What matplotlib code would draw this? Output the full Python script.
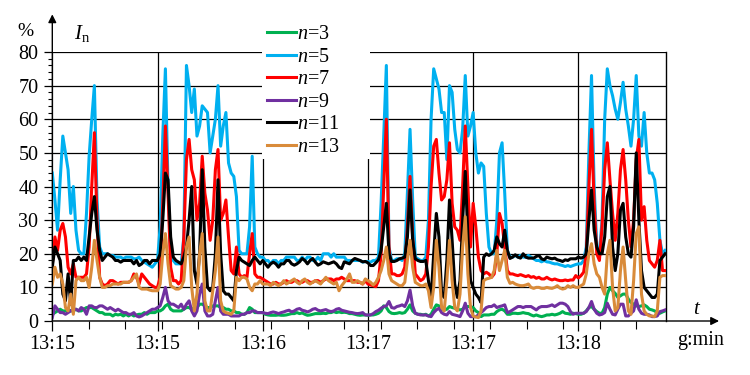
import numpy as np
import matplotlib
matplotlib.use("Agg")
import matplotlib.pyplot as plt
from matplotlib.patches import Rectangle

plt.rcParams['font.family'] = ['Liberation Serif', 'DejaVu Serif']
plt.rcParams['mathtext.fontset'] = 'custom'
plt.rcParams['mathtext.rm'] = 'Liberation Serif'
plt.rcParams['mathtext.it'] = 'Liberation Serif:italic'

# ---- data (values in %, one sample per second from 13:15:00) ----
tick_pos = [0, 40, 80, 120, 160, 200]
tick_labels = ['13:15', '13:15', '13:16', '13:17', '13:17', '13:18']
series_names = ['n=3', 'n=5', 'n=7', 'n=9', 'n=11', 'n=13']
series_colors = ['#00B050', '#00B0F0', '#FF0000', '#7030A0', '#000000', '#D98B3A']

n3 = [2, 2.5, 3, 3.5, 3, 3, 3.5, 3, 3, 3.5,
      3, 3, 3.5, 4, 4, 4, 3.5, 3, 2.5, 2.5,
      2, 2, 2, 1.5, 2, 1.8, 2, 1.5, 2, 1.5,
      2, 1.5, 1.8, 2, 2, 2.5, 2, 2.5, 2.5, 2.5,
      3, 3, 3.5, 4.5, 5, 3.5, 3, 3, 3, 3,
      3.5, 4, 4, 3.5, 4, 4, 5, 5, 4.5, 4,
      4, 4.5, 4.5, 4.5, 4, 4, 3.5, 3.5, 3, 3,
      2.5, 2.5, 2, 2, 2.5, 4, 3.5, 2.5, 2.5, 2.5,
      2.5, 2, 1.8, 1.7, 1.7, 1.7, 1.8, 1.7, 1.7, 1.8,
      2, 2.2, 2.2, 2.5, 2.2, 2.4, 2, 1.7, 1.8, 2,
      2.2, 2.2, 2.2, 2.3, 2.2, 2.5, 2.5, 2.8, 2.5, 2.7,
      2.5, 2.6, 2.5, 2.2, 2.2, 2, 1.8, 1.7, 1.8, 1.8,
      1.7, 1.8, 1.8, 2, 2.3, 3, 4.5, 4, 2.8, 2.3,
      2.2, 2.3, 2.5, 2.3, 2.5, 3.5, 4.8, 3, 2.3, 2,
      2, 1.8, 2, 1.5, 2, 3.5, 4.8, 4.5, 3.5, 3.3,
      3.5, 4.3, 4, 3.8, 3.5, 3.3, 3.5, 4.3, 4.3, 4.3,
      4, 3, 2.5, 1.3, 1.8, 1.8, 1.8, 2, 2, 2.8,
      3.3, 3.5, 3, 2, 2, 2.3, 2.3, 2.2, 2.3, 2.5,
      2.3, 2.2, 1.8, 1.5, 1.8, 1.5, 1.3, 1.5, 1.8, 1.8,
      2, 1.8, 2, 2.3, 2.8, 2.3, 2.2, 2, 2.3, 2.2,
      2, 2, 2.3, 3, 4, 4.3, 3.5, 2.8, 2.3, 2.3,
      4, 8, 10, 9, 8.2, 7, 7.5, 8, 8, 6.5,
      5.5, 5, 4.5, 4.3, 4.5, 4.8, 4.3, 3.5, 3.3, 3,
      2.5, 2.3, 2.7, 3]

n5 = [44, 36, 27, 42, 55, 50, 45, 32, 40, 27,
      21, 20, 20, 32, 49, 60, 70, 36, 22, 20,
      20, 20, 19.5, 19.5, 19, 19, 19, 18.5, 19, 19,
      19, 18.5, 18.5, 19, 18, 17.5, 17, 16.5, 16, 17,
      18, 28, 55, 75, 40, 20, 18, 17, 17, 17,
      25, 76, 70, 62, 69, 55, 58, 64, 63, 62,
      50, 55, 60, 70, 52, 58, 62, 47, 44, 43,
      37, 21, 20, 20, 20, 28, 49, 22, 20, 19,
      19, 18, 18, 17, 18, 18, 17, 18, 18, 19,
      19, 19, 19, 18, 18, 19, 18, 19, 19, 18,
      18, 19, 18, 20, 20, 20, 19, 20, 19, 19,
      19, 19, 18, 18, 18, 18, 18, 18, 17.5, 17.7,
      17.7, 17.5, 18, 18, 19, 35, 55, 76, 22, 18,
      18, 18.5, 18.5, 18, 20, 38, 57, 36, 19, 18.5,
      18, 18, 19, 30, 60, 75, 72, 69, 62, 62,
      48, 70, 68, 57, 51, 50, 57, 73, 55, 58,
      62, 50, 44, 47, 46, 32, 22, 20, 20, 30,
      50, 53, 38, 21, 19, 19, 19.5, 19, 19.5, 19,
      19, 19.5, 19, 18.5, 18, 18, 17.6, 18, 17.6, 17.5,
      17.2, 17, 17, 16.7, 16.5, 16.2, 16.5, 16.2, 16.5, 16.8,
      17, 17, 18, 22, 50, 73, 40, 22, 20, 30,
      60, 75, 70, 67, 63, 60, 65, 71, 63, 58,
      52, 60, 73, 55, 52, 62, 50, 44, 44, 42,
      35, 24, 20, 21]

n7 = [17, 25, 21, 27, 29, 25, 16, 14, 17, 13,
      13, 13, 13, 14, 22, 40, 56, 30, 13, 11,
      10.5, 11, 12, 12, 11.5, 11, 11.5, 11.5, 11.5, 11.5,
      12, 14, 13, 11, 14, 13, 12, 11, 10.5, 10,
      10, 13, 35, 58, 38, 16, 12, 12, 11, 12,
      25, 48, 54, 45, 42, 30, 35, 49, 38, 33,
      24, 30, 45, 51, 30, 32, 36, 25, 15, 14,
      22, 14, 13, 13.5, 13, 20, 26, 14, 13, 13,
      12.5, 12, 11.5, 11, 11, 11.5, 11, 11, 11.5, 12,
      11.5, 11.5, 12, 12, 11.5, 11.5, 12, 12, 11.5, 11.5,
      12, 12, 11.5, 12, 12.5, 12.5, 12.5, 12, 12.5, 12.5,
      13, 12.5, 12, 12, 12, 12, 11.5, 11.5, 11, 12,
      11, 10.7, 10.5, 10.2, 12, 20, 40, 60, 22, 14,
      14, 13.5, 13.5, 14, 16, 28, 43, 25, 14, 13,
      12, 12.5, 14, 22, 40, 52, 54, 44, 36, 37,
      42, 53, 35, 28, 27, 24, 40, 58, 40, 22,
      35, 28, 19, 15, 14, 14.5, 14, 13, 14, 20,
      32, 29, 22, 15, 14, 14, 13.7, 13.5, 13.8, 13.5,
      13.2, 13.5, 13, 13.2, 12.7, 13, 12.5, 12.5, 13, 12.5,
      12.2, 12.5, 12.2, 12, 12, 12.2, 12, 12.2, 12.2, 13.5,
      12.8, 13.5, 14.5, 20, 40, 57, 35, 20, 18, 28,
      45, 53, 42, 32, 24, 32, 45, 51, 42, 30,
      22, 30, 48, 54, 30, 34, 24, 18, 17, 16,
      18, 24, 15, 15]

n9 = [1, 4.5, 3.5, 2.5, 2.5, 2, 2.5, 3, 3.5, 3.5,
      3, 4, 3.5, 2, 4.5, 4.5, 4, 4, 4.5, 4.5,
      4, 3.5, 4, 3.5, 3, 3.5, 3, 2.5, 2.5, 2,
      2, 2.5, 1.5, 1.2, 1.5, 2, 2.5, 3, 3.5, 3.5,
      4, 4.5, 7, 10, 6, 5, 5, 4.5, 4, 5,
      3.5, 5, 6, 3, 1.5, 3, 8, 11, 3, 1.5,
      1.5, 2, 6, 10, 3, 2, 2, 2, 1.5, 1.5,
      1.5, 1.5, 2, 2, 2.5, 2.5, 3, 3, 2.5, 2.5,
      2.5, 2.3, 2.2, 2.5, 2.7, 2.5, 2.2, 2.5, 2.7, 3,
      3.2, 2.7, 3, 3.5, 3.7, 3.2, 3, 2.7, 3, 3.5,
      3.7, 3.2, 3, 3.2, 3.4, 3, 2.8, 3, 3.5, 3.7,
      3.2, 3, 2.8, 2.6, 2.5, 2.3, 2.2, 2.3, 2.5, 1.8,
      1.8, 1.8, 2.2, 2.8, 3.2, 3.8, 4.3, 4.5, 5.8, 4,
      3.8, 4.3, 4.5, 4.8, 4.3, 6, 9.2, 4.5, 2.3, 2,
      1.8, 1.8, 1.8, 1.5, 1.3, 2.5, 3.3, 3.8, 2.5, 2,
      1.8, 2.8, 2, 1.8, 1.6, 1.3, 3, 5.3, 2.3, 1.3,
      1.3, 1.3, 1.8, 2.5, 3.2, 4, 4.3, 4.3, 4.8, 4,
      4.3, 4.5, 4.8, 2.5, 2.8, 3.3, 3.8, 4.3, 4.3, 4,
      4.3, 4.3, 4.3, 3.8, 3.3, 4, 4.3, 4.3, 4.3, 4.5,
      4.8, 4.3, 4.8, 5.3, 5.3, 5, 4.3, 2.8, 2, 2.3,
      2.3, 2.3, 2.3, 2.8, 4, 5.8, 3.5, 2.3, 1.8, 2,
      2.5, 5.3, 3.5, 2, 1.8, 3.5, 5, 5, 1.5, 1.5,
      2.3, 3, 6.3, 3.5, 2.3, 2, 2, 1.8, 1.3, 1.3,
      1.5, 2.8, 3, 3.3]

n11 = [16, 22, 20, 18, 8, 6, 14, 5, 18, 18,
       19, 18, 19, 18, 25, 32, 37, 27, 21, 18,
       19, 20, 19.5, 19, 18, 18, 17.5, 18, 18, 18,
       18, 17, 18, 16.5, 17, 18, 18, 17, 18, 18,
       18, 20, 30, 44, 42, 25, 19, 18, 17.5, 17,
       19, 22, 30, 40, 15, 11, 20, 45, 22, 10,
       9, 10, 20, 42, 20, 9, 8, 8, 7, 6,
       15, 19, 18, 17.5, 17, 16.5, 18, 19, 18, 17,
       18, 17, 16, 17, 17.5, 17, 16, 17, 17, 18,
       18, 17, 16.6, 17, 17.6, 18.6, 18, 17, 18, 18.6,
       17.5, 16.6, 17, 17.6, 17.3, 17, 17.3, 17.6, 17, 16,
       15.6, 17.6, 17.3, 17, 18, 18.6, 18.3, 18, 17.6, 17.7,
       17.3, 16.5, 16.5, 17.3, 18.2, 21, 28, 35, 20, 17.7,
       17.7, 18, 18.5, 18.7, 19, 25, 39, 24, 18.5, 18,
       17.7, 17.7, 18, 12, 6.5, 20, 32, 25, 8, 7,
       18, 36, 24, 11, 7, 12, 30, 44.5, 25, 12,
       10, 8, 7, 5.5, 19, 20, 19.5, 20, 21, 25,
       23, 22, 27, 21, 18.6, 19, 19.7, 19, 18.7, 20,
       19, 18.7, 18.7, 18.7, 19.2, 19.5, 18.5, 18.2, 19, 18.7,
       18.5, 18.7, 18.2, 18, 17.7, 18.2, 18, 18.5, 18.5, 18.5,
       19, 18.7, 19, 20, 30, 39, 27, 22, 20, 20,
       25, 37, 40, 22, 15, 20, 33, 35, 25, 20,
       19, 28, 50, 30, 15, 10, 9, 8, 7, 7,
       8, 18, 19, 20]

n13 = [11, 16, 13, 14, 11, 4, 3, 8, 2, 12,
       13, 12, 12, 13, 10, 16, 24, 18, 13, 10,
       10, 10.5, 10.5, 11, 11, 11, 11, 11.5, 11.5, 11.5,
       12, 13, 14, 10, 9.5, 9.5, 9.5, 9.2, 9, 9,
       9, 11, 20, 26, 17, 10.5, 10, 9.5, 9.5, 10,
       12, 22, 25, 10, 3, 8, 20, 26, 6, 3,
       3, 9, 15, 25, 6, 3, 2.5, 2.3, 2, 3,
       13, 12, 13, 13, 12.5, 10, 9, 11, 11, 12,
       11, 11, 11, 10.5, 11.5, 11, 10.5, 11, 12, 11,
       11.5, 12, 12.5, 11.5, 11, 12, 12.5, 11.5, 11, 11.5,
       12, 11.5, 11, 12, 13, 12, 11.5, 11, 11.5, 9,
       10.5, 11.5, 12.5, 14, 11.5, 11.5, 12, 11.5, 11, 12.5,
       12, 11.5, 10.7, 11.5, 13, 15, 18, 22, 14, 12,
       11.5, 11, 10.5, 10.5, 11.5, 18, 24, 16, 11.5, 11,
       10.5, 10.5, 11, 9, 4, 10, 24, 16, 4, 3,
       12, 24, 12, 4, 3, 8, 22, 31, 14, 4,
       1.5, 1.2, 1, 3, 12, 12.5, 12.7, 13, 15, 21,
       15, 18, 21, 13, 11.2, 11.5, 11, 10.7, 10.5, 10.5,
       10.7, 11, 10, 9.7, 10, 10, 9.7, 9.7, 10, 9.8,
       9.7, 10, 10.5, 9.8, 9.5, 9.7, 10.5, 10, 10.5, 10,
       10, 10.5, 11, 14, 20, 23, 17, 14, 13, 10,
       8, 20, 24, 10, 3, 4, 15, 22, 12, 3,
       2, 12, 26, 28, 8, 3, 2, 1.5, 1.5, 1.3,
       3, 13, 13.5, 13.5]

series = [n3, n5, n7, n9, n11, n13]

# ---- figure ----
fig = plt.figure(figsize=(7.5, 3.75), dpi=100)
ax = fig.add_axes([52.3 / 750, 1 - 321 / 375, 613.4 / 750, 269 / 375])

lines = []
for vals, name, col in zip(series, series_names, series_colors):
    x = np.arange(len(vals))
    ln, = ax.plot(x, vals, color=col, lw=2.2, solid_joinstyle='round', zorder=3)
    lines.append(ln)

ax.set_xlim(0, 233.2)
ax.set_ylim(0, 80)

ax.set_yticks(np.arange(0, 81, 10))
ax.set_yticks(np.arange(0, 81, 2), minor=True)
ax.set_xticks(tick_pos)
ax.set_xticklabels(tick_labels)
ax.set_xticks(np.arange(0, 233, 13.88), minor=True)

ax.grid(True, which='major', color='black', lw=0.9, zorder=0.5)
ax.set_axisbelow(True)

ax.tick_params(axis='y', which='major', direction='out', length=6, width=0.9,
               labelsize=14.5, pad=4)
ax.tick_params(axis='y', which='minor', direction='out', length=3, width=0.8)
ax.tick_params(axis='x', which='major', direction='out', length=7, width=0.9,
               labelsize=14.5, pad=3)
ax.tick_params(axis='x', which='minor', direction='out', length=6, width=0.8)

for s in ['top', 'left', 'bottom']:
    ax.spines[s].set_visible(False)
ax.spines['right'].set_color('black')
ax.spines['right'].set_linewidth(1.0)

# axis arrows
ax.annotate('', xy=(0, 1.14), xytext=(0, 0), xycoords='axes fraction',
            arrowprops=dict(arrowstyle='-|>', lw=1.0, color='black',
                            mutation_scale=12, shrinkA=0, shrinkB=0),
            annotation_clip=False)
ax.annotate('', xy=(1.087, 0), xytext=(0, 0), xycoords='axes fraction',
            arrowprops=dict(arrowstyle='-|>', lw=1.0, color='black',
                            mutation_scale=12, shrinkA=0, shrinkB=0),
            annotation_clip=False)

# white area behind legend
ax.add_patch(Rectangle((0.3425, 0.602), 0.175, 0.6, transform=ax.transAxes,
                       facecolor='white', edgecolor='none', zorder=1.5,
                       clip_on=False))

labels = [r'$\mathit{n}$=' + nm.split('=')[1] for nm in series_names]
fig.legend(lines, labels, loc='upper left',
           bbox_to_anchor=(267 / 750, 1 - 25 / 375), bbox_transform=fig.transFigure,
           frameon=False, fontsize=14.5, handlelength=1.45, handletextpad=0.05,
           labelspacing=0.17, borderpad=0, borderaxespad=0)

fig.text(17 / 750, 1 - 31 / 375, '%', fontsize=14, ha='left', va='center')
fig.text(74 / 750, 1 - 34 / 375, r'$I_{\mathrm{n}}$', fontsize=15, ha='left', va='center')
fig.text(697 / 750, 1 - 309 / 375, r'$\mathit{t}$', fontsize=15, ha='center', va='center')
fig.text(701 / 750, 1 - 341 / 375, 'g:min', fontsize=14.5, ha='center', va='center')

fig.savefig('out.png', dpi=100)
